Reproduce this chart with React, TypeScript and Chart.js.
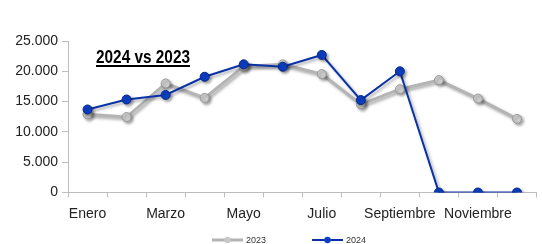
import React, { useEffect, useRef } from "react";
import { Chart, registerables } from "chart.js";

Chart.register(...registerables);

const months = ["Enero", "Febrero", "Marzo", "Abril", "Mayo", "Junio", "Julio", "Agosto", "Septiembre", "Octubre", "Noviembre", "Diciembre"];
const values2023 = [12900, 12450, 18000, 15600, 20800, 21150, 19550, 14550, 17050, 18550, 15500, 12150];
const values2024 = [13700, 15350, 16100, 19100, 21150, 20750, 22700, 15250, 20000, 0, 0, 0];
const yTicks = [0, 5000, 10000, 15000, 20000, 25000];
const titleText = "2024 vs 2023";
const seriesNames = ["2023", "2024"];

const FONT = "'Liberation Sans', Arial, sans-serif";
const GRAY = "#b4b4b4";
const BLUE = "#0a32a8";

const fmt = (v: number) => v.toLocaleString("de-DE");

export default function App() {
  const ref = useRef<HTMLCanvasElement | null>(null);
  useEffect(() => {
    document.body.style.margin = "0";
    const canvas = ref.current!;
    const shadowPlugin = {
      id: "shadow",
      beforeDatasetDraw(chart: any) {
        const c = chart.ctx;
        c.save();
        c.shadowColor = "rgba(0,0,0,0.35)";
        c.shadowBlur = 3;
        c.shadowOffsetX = 2;
        c.shadowOffsetY = 2;
      },
      afterDatasetDraw(chart: any) {
        chart.ctx.restore();
      },
    };
    const overlayPlugin = {
      id: "overlay",
      afterDraw(chart: any) {
        const c = chart.ctx as CanvasRenderingContext2D;
        c.save();
        // title (condensed to match a narrow bold face)
        c.font = `bold 18px ${FONT}`;
        c.fillStyle = "#000";
        c.textBaseline = "alphabetic";
        c.textAlign = "left";
        const tx = 96, ty = 62.5, targetW = 94;
        const w = c.measureText(titleText).width;
        c.save();
        c.translate(tx, ty);
        c.scale(targetW / w, 1);
        c.fillText(titleText, 0, 0);
        c.restore();
        c.fillRect(tx, ty + 2.5, targetW, 2);
        // legend
        const items = [
          { name: seriesNames[0], color: GRAY, fill: "#c8c8c8", x0: 212, x1: 243, tx: 246, lw: 3 },
          { name: seriesNames[1], color: BLUE, fill: "#0d3fc4", x0: 312, x1: 343, tx: 346, lw: 2 },
        ];
        const ly = 240;
        c.font = `9px ${FONT}`;
        c.textBaseline = "middle";
        for (const it of items) {
          c.strokeStyle = it.color;
          c.lineWidth = it.lw;
          c.beginPath();
          c.moveTo(it.x0, ly);
          c.lineTo(it.x1, ly);
          c.stroke();
          c.beginPath();
          c.arc((it.x0 + it.x1) / 2, ly, 3.2, 0, Math.PI * 2);
          c.fillStyle = it.fill;
          c.fill();
          c.fillStyle = "#333";
          c.fillText(it.name, it.tx, ly + 0.5);
        }
        c.restore();
      },
    };
    const chart = new Chart(canvas, {
      type: "line",
      data: {
        labels: months,
        datasets: [
          {
            label: seriesNames[0],
            data: values2023,
            order: 2,
            borderColor: GRAY,
            borderWidth: 3,
            pointRadius: 4.5,
            pointBackgroundColor: "#cdcdcd",
            pointBorderColor: "#9a9a9a",
            pointBorderWidth: 1,
            tension: 0,
          },
          {
            label: seriesNames[1],
            data: values2024,
            order: 1,
            borderColor: BLUE,
            borderWidth: 2,
            pointRadius: 4.5,
            pointBackgroundColor: "#0d3fc4",
            pointBorderColor: "#06298a",
            pointBorderWidth: 1,
            tension: 0,
          },
        ],
      },
      options: {
        animation: false,
        responsive: false,
        maintainAspectRatio: false,
        layout: { padding: { top: 41, right: 2, bottom: 0, left: 0 } },
        plugins: { legend: { display: false }, tooltip: { enabled: false }, title: { display: false } },
        scales: {
          x: {
            offset: true,
            grid: { display: true, drawOnChartArea: false, offset: true, tickLength: 5, color: "#bdbdbd" },
            border: { display: true, color: "#bdbdbd", width: 1 },
            ticks: {
              autoSkip: false,
              maxRotation: 0,
              padding: 8,
              color: "#222",
              font: { family: FONT, size: 14 },
              callback: (_v: any, i: number) => (i % 2 === 0 ? months[i] : ""),
            },
            afterFit: (s: any) => { s.height = 51.5; },
          },
          y: {
            min: 0,
            max: 25000,
            afterBuildTicks: (s: any) => { s.ticks = yTicks.map((v) => ({ value: v })); },
            grid: { display: true, drawOnChartArea: false, tickLength: 6, color: "#bdbdbd" },
            border: { display: true, color: "#bdbdbd", width: 1 },
            ticks: {
              padding: 4,
              color: "#222",
              font: { family: FONT, size: 14 },
              callback: (v: any) => fmt(Number(v)),
            },
            afterFit: (s: any) => { s.width = 68; },
          },
        },
      },
      plugins: [shadowPlugin, overlayPlugin],
    });
    return () => chart.destroy();
  }, []);
  return (
    <div style={{ position: "relative", width: 542, height: 244, background: "#fff" }}>
      <canvas ref={ref} width={542} height={244} style={{ display: "block", width: 542, height: 244 }} />
    </div>
  );
}
